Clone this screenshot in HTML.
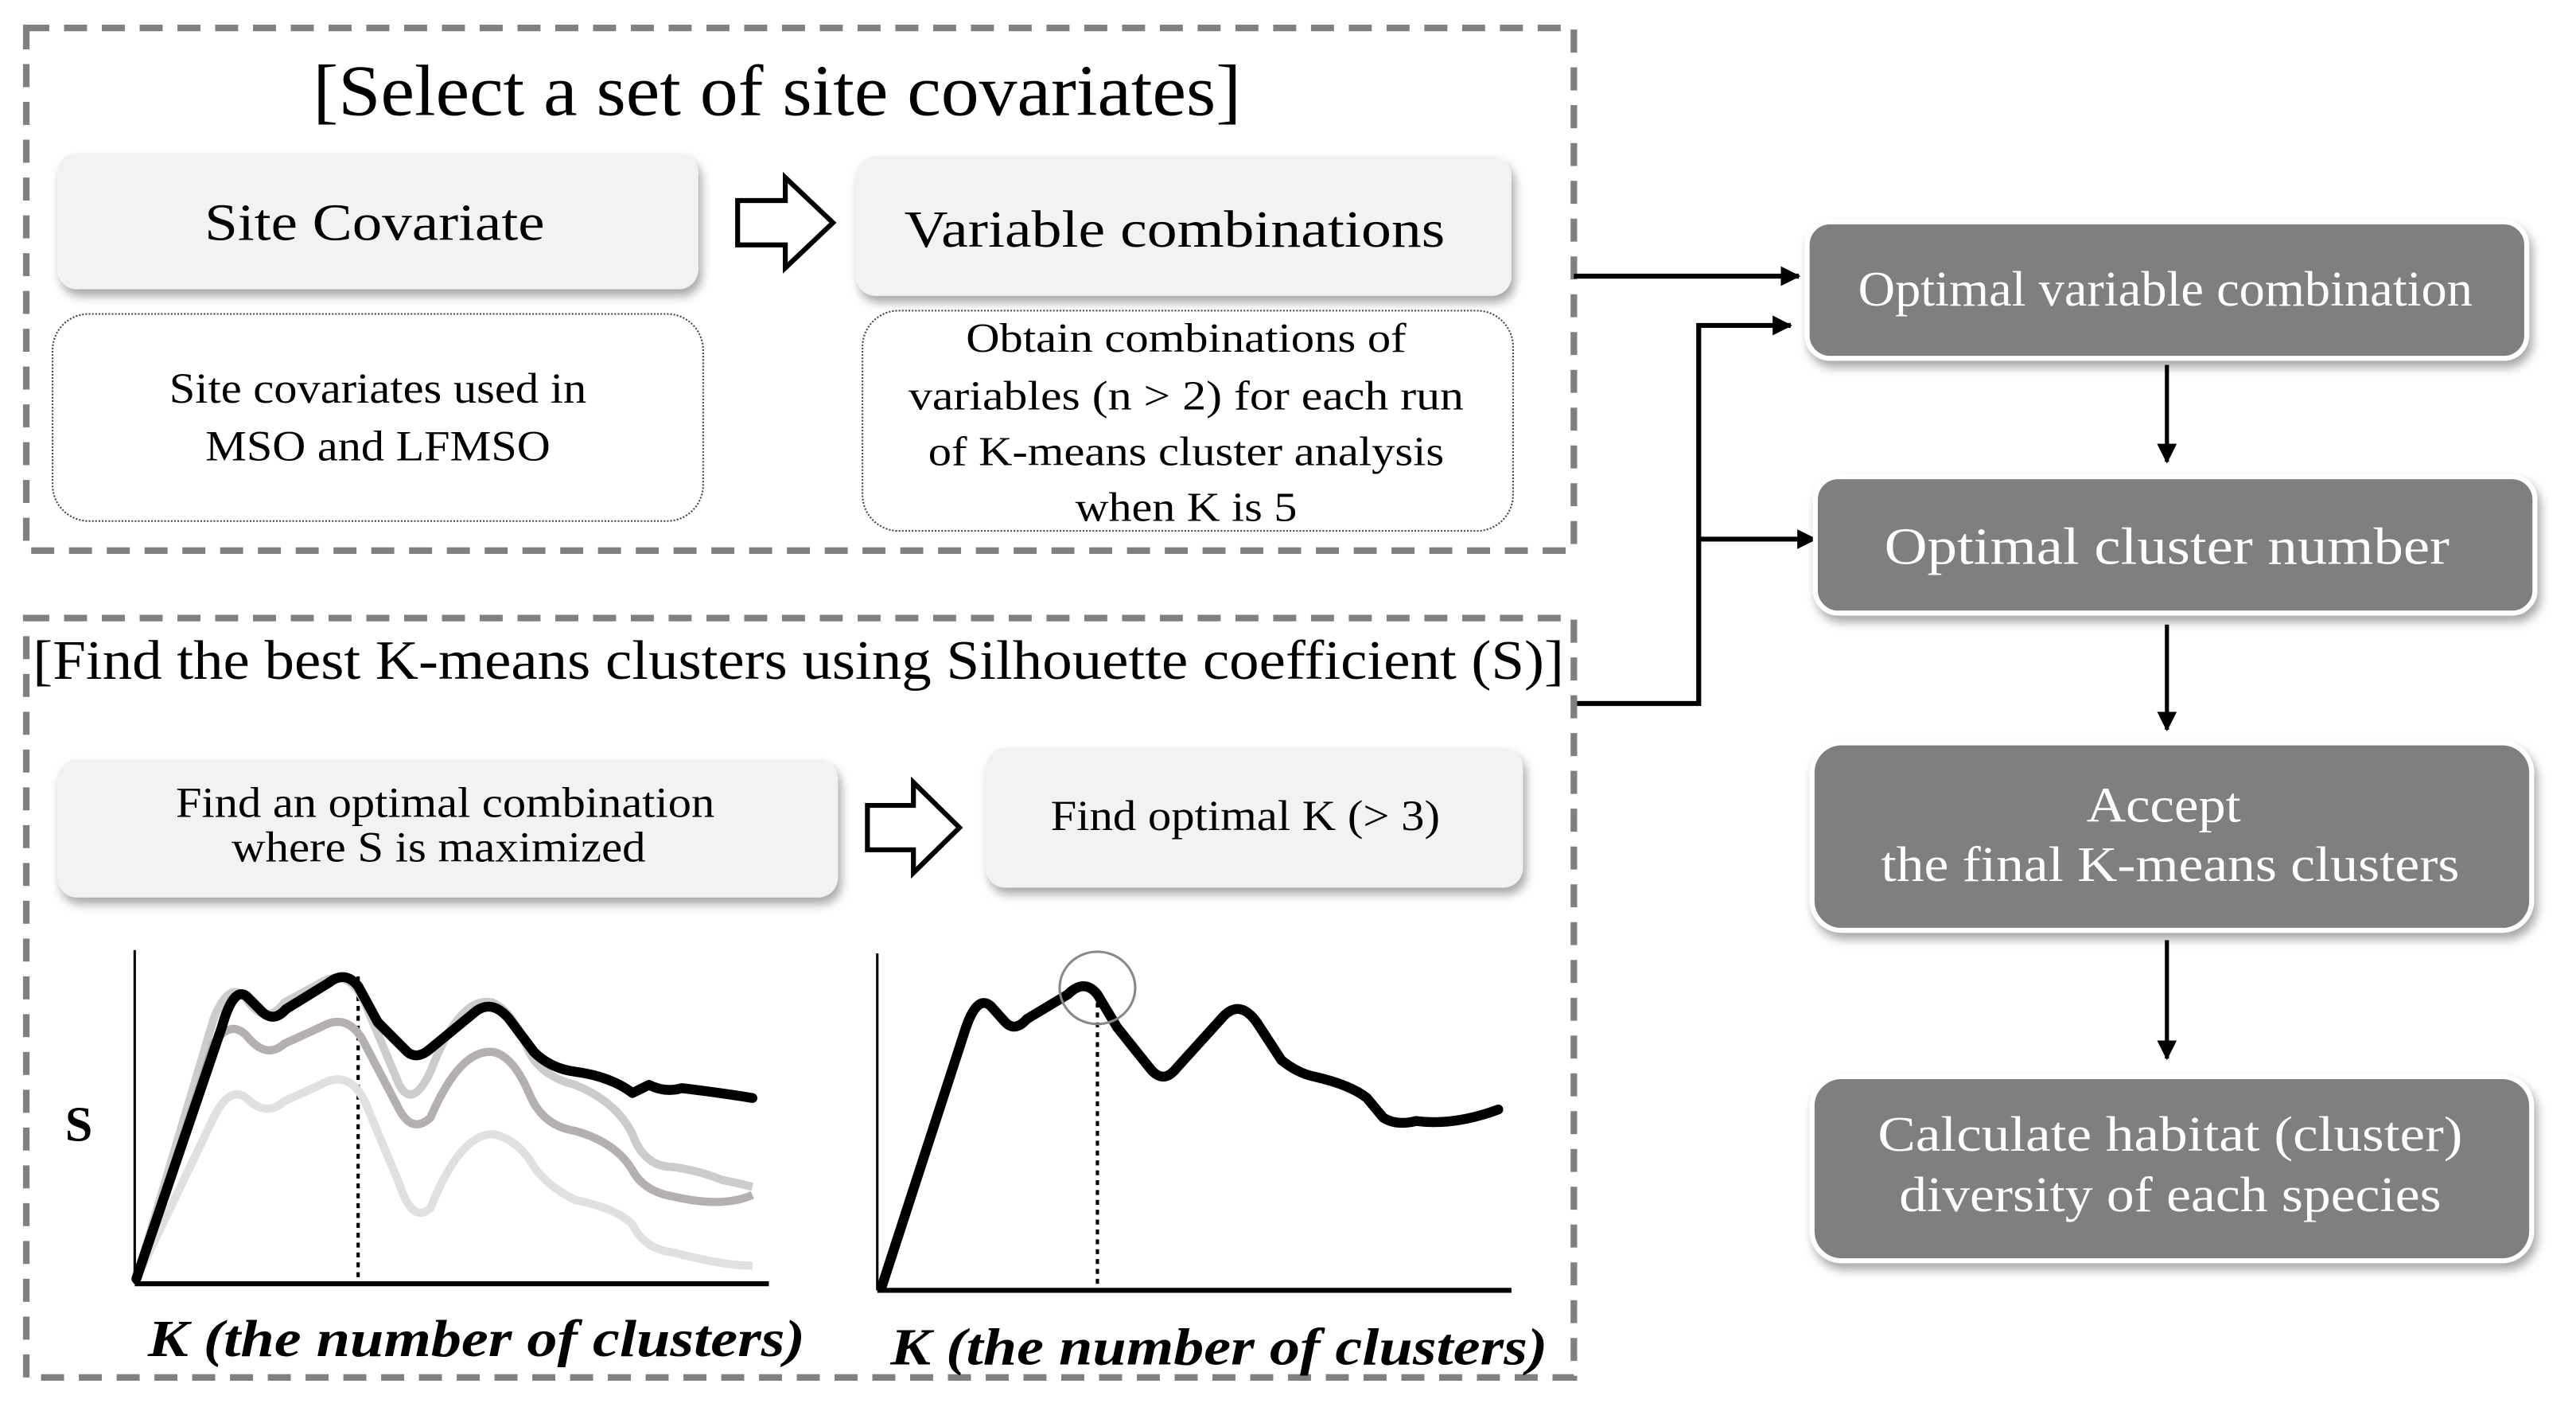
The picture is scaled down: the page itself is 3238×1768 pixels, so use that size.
<!DOCTYPE html>
<html><head><meta charset="utf-8"><style>
html,body{margin:0;padding:0;background:#fff;}
svg{display:block;}
text{font-family:"Liberation Serif",serif;}
</style></head><body>
<svg width="3238" height="1768" viewBox="0 0 1568 856" preserveAspectRatio="none" xmlns="http://www.w3.org/2000/svg">
<defs>
<filter id="sh" x="-10%" y="-10%" width="125%" height="140%"><feDropShadow dx="2" dy="4" stdDeviation="3" flood-color="#000" flood-opacity="0.35"/></filter>
<marker id="ah" markerWidth="8" markerHeight="8" refX="7" refY="4" orient="auto" markerUnits="userSpaceOnUse"><path d="M0,0 L8,4 L0,8 Z" fill="#000"/></marker>
<marker id="ah2" markerWidth="12" markerHeight="12" refX="11" refY="6" orient="auto" markerUnits="userSpaceOnUse"><path d="M0,0 L12,6 L0,12 Z" fill="#000"/></marker>
</defs>
<rect width="1568" height="856" fill="#fff"/>
<!-- dashed boxes -->
<rect x="16" y="17" width="942" height="318" fill="none" stroke="#808080" stroke-width="4" stroke-dasharray="14,9"/>
<rect x="16" y="376" width="942" height="462" fill="none" stroke="#808080" stroke-width="4" stroke-dasharray="14,9"/>
<text x="473" y="70" font-size="44" text-anchor="middle" textLength="565" lengthAdjust="spacingAndGlyphs">[Select a set of site covariates]</text>
<!-- top boxes -->
<rect x="35" y="93" width="390" height="83" rx="12" fill="#f2f2f2" filter="url(#sh)"/>
<text x="228" y="146" font-size="32" text-anchor="middle" textLength="207" lengthAdjust="spacingAndGlyphs">Site Covariate</text>
<path d="M449,122 L478,122 L478,108 L507,135.5 L478,163 L478,149 L449,149 Z" fill="#fff" stroke="#000" stroke-width="3"/>
<rect x="521" y="95" width="399" height="85" rx="12" fill="#f2f2f2" filter="url(#sh)"/>
<text x="715" y="150" font-size="32" text-anchor="middle" textLength="329" lengthAdjust="spacingAndGlyphs">Variable combinations</text>
<rect x="32" y="191" width="396" height="126" rx="22" fill="#fff" stroke="#444" stroke-width="1" stroke-dasharray="1,1"/>
<text x="230" y="245" font-size="26" text-anchor="middle" textLength="254" lengthAdjust="spacingAndGlyphs">Site covariates used in</text>
<text x="230" y="280" font-size="26" text-anchor="middle" textLength="210" lengthAdjust="spacingAndGlyphs">MSO and LFMSO</text>
<rect x="525" y="189" width="396" height="134" rx="22" fill="#fff" stroke="#444" stroke-width="1" stroke-dasharray="1,1"/>
<g font-size="25" text-anchor="middle">
<text x="722" y="214" textLength="268" lengthAdjust="spacingAndGlyphs">Obtain combinations of</text>
<text x="722" y="249" textLength="338" lengthAdjust="spacingAndGlyphs">variables (n &gt;  2) for each run</text>
<text x="722" y="283" textLength="314" lengthAdjust="spacingAndGlyphs">of K-means cluster analysis</text>
<text x="722" y="317" textLength="135" lengthAdjust="spacingAndGlyphs">when K is 5</text>
</g>
<!-- bottom section -->
<text x="486" y="413" font-size="34" text-anchor="middle" textLength="932" lengthAdjust="spacingAndGlyphs">[Find the best K-means clusters using Silhouette coefficient (S)]</text>
<rect x="35" y="462" width="475" height="84" rx="12" fill="#f2f2f2" filter="url(#sh)"/>
<text x="271" y="497" font-size="26" text-anchor="middle" textLength="328" lengthAdjust="spacingAndGlyphs">Find an optimal combination</text>
<text x="267" y="524" font-size="26" text-anchor="middle" textLength="252" lengthAdjust="spacingAndGlyphs">where S is maximized</text>
<path d="M528,490 L556,490 L556,476 L584,503.5 L556,531 L556,517 L528,517 Z" fill="#fff" stroke="#000" stroke-width="3"/>
<rect x="600" y="455" width="327" height="85" rx="12" fill="#f2f2f2" filter="url(#sh)"/>
<text x="758" y="505" font-size="26" text-anchor="middle" textLength="237" lengthAdjust="spacingAndGlyphs">Find optimal K (&gt; 3)</text>
<!-- chart 1 -->
<line x1="82" y1="578" x2="82" y2="781" stroke="#000" stroke-width="1.5"/>
<line x1="82" y1="781" x2="468" y2="781" stroke="#000" stroke-width="3"/>
<line x1="218" y1="594" x2="218" y2="781" stroke="#000" stroke-width="2" stroke-dasharray="3,3"/>
<text x="48" y="694" font-size="30" font-weight="bold" text-anchor="middle">S</text>
<path d="M83,778 L130,620 Q140,595 150,608 Q162,625 173,610 L195,598 Q212,588 222,610 L243,660 Q251,675 262,652 Q280,605 300,610 Q312,615 322,640 Q330,655 350,660 Q375,670 385,690 Q392,710 410,710 Q425,712 440,718 Q450,720 458,722" fill="none" stroke="#ccc" stroke-width="5"/>
<path d="M83,778 L130,680 Q140,660 150,668 Q162,680 173,670 L195,660 Q212,650 222,670 L243,720 Q251,745 262,735 Q280,690 300,690 Q312,692 322,705 Q330,720 350,730 Q375,735 385,745 Q392,760 410,762 Q440,770 458,770" fill="none" stroke="#e0e0e0" stroke-width="5"/>
<path d="M83,778 L130,635 Q140,620 150,630 Q162,645 173,635 L195,625 Q212,615 222,635 L243,675 Q251,690 262,680 Q280,638 300,640 Q312,642 322,665 Q330,685 350,688 Q375,695 385,712 Q392,725 410,728 Q440,735 458,727" fill="none" stroke="#b5b0b0" stroke-width="5"/>
<path d="M83,778 L138,620 Q145,598 153,603 L162,612 Q168,620 178,612 L200,600 Q210,590 218,598 L230,622 L248,652 Q254,660 262,650 L290,618 Q300,608 310,622 L325,660 Q335,670 350,675 Q365,680 375,690 L385,710 Q395,720 410,722 L425,725 Q440,733 458,735" fill="none" stroke="#000" stroke-width="0" />
<path d="M83,778 L135,625 Q142,600 150,606 L160,616 Q167,622 174,614 L200,598 Q210,590 218,600 L230,622 L248,640 Q254,645 262,638 L290,615 Q300,608 310,620 L325,640 Q335,650 350,652 Q372,655 385,665 L395,660 Q405,665 415,662 Q440,665 458,668" fill="none" stroke="#000" stroke-width="6" stroke-linejoin="round" stroke-linecap="round"/>
<text x="290" y="825" font-size="32" font-weight="bold" font-style="italic" text-anchor="middle" textLength="400" lengthAdjust="spacingAndGlyphs">K (the number of  clusters)</text>
<!-- chart 2 -->
<line x1="534" y1="580" x2="534" y2="785" stroke="#000" stroke-width="1.5"/>
<line x1="534" y1="785" x2="920" y2="785" stroke="#000" stroke-width="3"/>
<line x1="668" y1="604" x2="668" y2="785" stroke="#000" stroke-width="2" stroke-dasharray="3,3"/>
<path d="M537,782 L588,625 Q595,605 603,612 L612,622 Q618,628 625,620 L650,605 Q660,595 668,605 L680,625 L700,650 Q708,660 716,650 L745,618 Q755,608 765,622 L780,645 Q790,653 800,655 Q822,660 832,668 L842,680 Q850,685 862,682 Q885,685 912,675" fill="none" stroke="#000" stroke-width="6" stroke-linejoin="round" stroke-linecap="round"/>
<ellipse cx="668" cy="601" rx="23" ry="22" fill="none" stroke="#888" stroke-width="1.5"/>
<text x="742" y="830" font-size="32" font-weight="bold" font-style="italic" text-anchor="middle" textLength="400" lengthAdjust="spacingAndGlyphs">K (the number of  clusters)</text>
<!-- connectors -->
<line x1="958" y1="168" x2="1095" y2="168" stroke="#000" stroke-width="3" marker-end="url(#ah2)"/>
<polyline points="960,428 1034,428 1034,198 1090,198" fill="none" stroke="#000" stroke-width="3" marker-end="url(#ah2)"/>
<line x1="1034" y1="328" x2="1105" y2="328" stroke="#000" stroke-width="3" marker-end="url(#ah2)"/>
<!-- right boxes -->
<g filter="url(#sh)">
<rect x="1100" y="135" width="438" height="83" rx="14" fill="#7f7f7f" stroke="#fff" stroke-width="3"/>
<rect x="1105" y="290" width="438" height="83" rx="14" fill="#7f7f7f" stroke="#fff" stroke-width="3"/>
<rect x="1103" y="452" width="438" height="114" rx="18" fill="#7f7f7f" stroke="#fff" stroke-width="3"/>
<rect x="1103" y="655" width="438" height="112" rx="18" fill="#7f7f7f" stroke="#fff" stroke-width="3"/>
</g>
<g fill="#fff" text-anchor="middle">
<text x="1318" y="186" font-size="30" textLength="374" lengthAdjust="spacingAndGlyphs">Optimal variable combination</text>
<text x="1319" y="343" font-size="32" textLength="344" lengthAdjust="spacingAndGlyphs">Optimal cluster number</text>
<text x="1317" y="500" font-size="30" textLength="94" lengthAdjust="spacingAndGlyphs">Accept</text>
<text x="1321" y="536" font-size="30" textLength="352" lengthAdjust="spacingAndGlyphs">the final K-means clusters</text>
<text x="1321" y="700" font-size="30" textLength="356" lengthAdjust="spacingAndGlyphs">Calculate habitat  (cluster)</text>
<text x="1321" y="737" font-size="30" textLength="330" lengthAdjust="spacingAndGlyphs">diversity of each species</text>
</g>
<g stroke="#000" stroke-width="2.5">
<line x1="1319" y1="222" x2="1319" y2="281" marker-end="url(#ah2)"/>
<line x1="1319" y1="380" x2="1319" y2="444" marker-end="url(#ah2)"/>
<line x1="1319" y1="572" x2="1319" y2="644" marker-end="url(#ah2)"/>
</g>
</svg>
</body></html>
